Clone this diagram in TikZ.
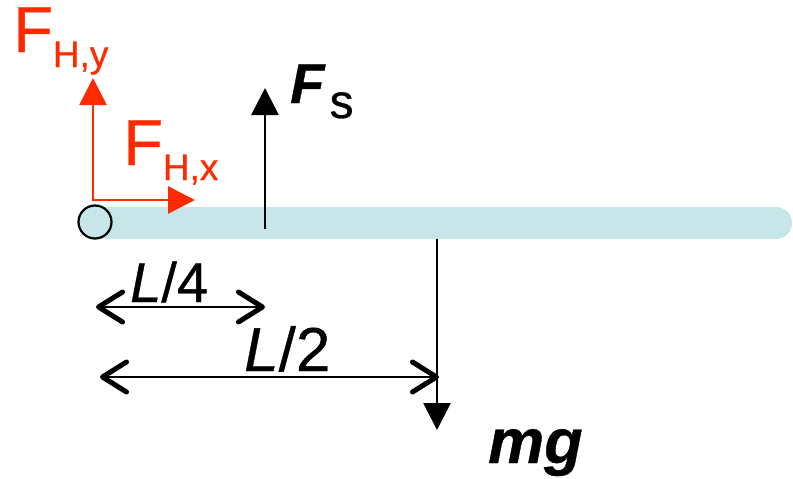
\documentclass[tikz,border=0pt]{standalone}
\usepackage{fontspec}
\setmainfont{Liberation Sans}[FakeBold=0.6]
\usetikzlibrary{arrows.meta}
\definecolor{beamblue}{HTML}{C6E6E9}
\definecolor{hingered}{HTML}{FF2A00}
\newcommand{\bigsize}[1]{\fontsize{#1}{#1}\selectfont}
\begin{document}
\begin{tikzpicture}[
  x=1pt, y=-1pt,
  force/.style={line width=2.8pt, -{Triangle[length=27pt, width=27pt]}},
  redforce/.style={force, draw=hingered, {Triangle[length=27pt, width=27pt]}-{Triangle[length=27pt, width=27pt]}},
  dim/.style={line width=2.8pt, {Straight Barb[length=24pt, width=30pt, line width=5pt, round]}-{Straight Barb[length=24pt, width=30pt, line width=5pt, round]}},
  label/.style={inner sep=0pt, anchor=base west},
  hinge/.style={circle, draw, line width=2.2pt, fill=beamblue, minimum size=33pt, inner sep=0pt}
]
  \useasboundingbox (0,0) rectangle (793,479);

  % Beam
  \fill[beamblue] (100,207) [rounded corners=16pt] -- (792,207) -- (792,239) [sharp corners] -- (100,239) -- cycle;
  \node[hinge] (hinge) at (95,222) {};

  % Hinge forces
  \coordinate (hy) at (93,78);
  \coordinate (hx) at (195,200);
  \draw[redforce] (hy) |- (hx);
  \node[label, text=hingered] (fhy) at (13,52) {\bigsize{65}F\raisebox{-15pt}{\bigsize{37}H,y}};
  \node[label, text=hingered] (fhx) at (123,165) {\bigsize{65}F\raisebox{-15pt}{\bigsize{37}H,x}};

  % Support force and weight
  \coordinate (fsbase) at (265,229);
  \coordinate (fstip) at (265,88);
  \draw[force] (fsbase) -- (fstip);
  \node[label] (fs) at (290,103) {\bigsize{56}\textbf{\textit{F}}\hspace{4pt}\raisebox{-15pt}{\bigsize{48}s}};
  \coordinate (mgbase) at (437,239);
  \coordinate (mgtip) at (437,430);
  \draw[force] (mgbase) -- (mgtip);
  \node[label] (mg) at (488,463) {\bigsize{63}\textbf{\textit{mg}}};

  % Distances
  \coordinate (q0) at (96,307);
  \coordinate (q1) at (265,307);
  \draw[dim] (q0) -- (q1);
  \node[label] (quarter) at (130,302) {\bigsize{56}\textit{L}/4};
  \coordinate (h0) at (100,377);
  \coordinate (h1) at (439,377);
  \draw[dim] (h0) -- (h1);
  \node[label] (half) at (244,371) {\bigsize{62}\textit{L}/2};
\end{tikzpicture}
\end{document}
